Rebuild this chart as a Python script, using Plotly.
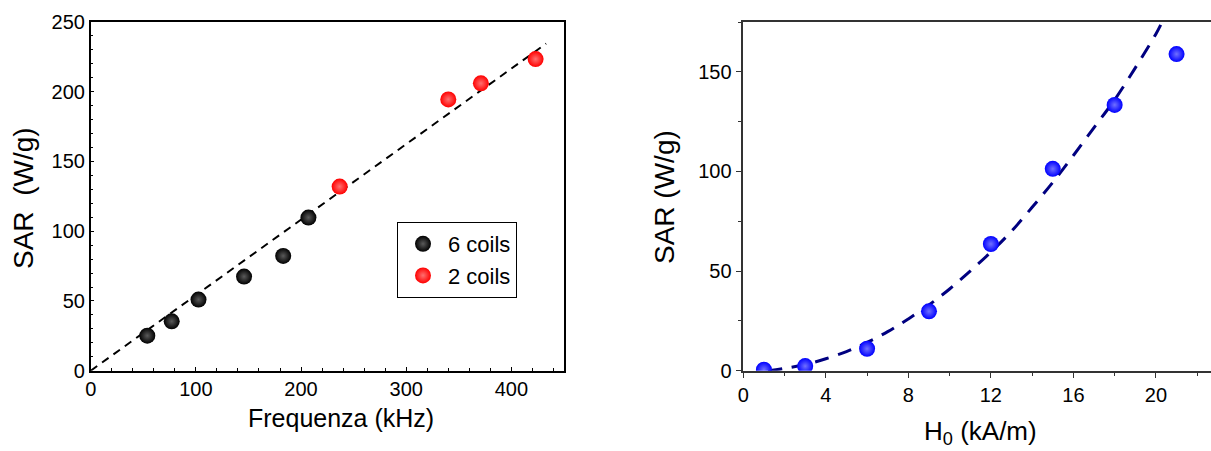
import plotly.graph_objects as go

# ---- Left panel data ----
freq_6coils = [53.8, 77, 102.5, 145.8, 183, 207]
sar_6coils = [25.1, 35.4, 51, 67.5, 82.3, 109.8]
freq_2coils = [236.7, 340, 371, 423]
sar_2coils = [132, 194.5, 206, 223.4]
fit_freq = [0, 433]
fit_sar = [0, 234.5]

# ---- Right panel data ----
h0 = [1, 3, 6, 9, 12, 15, 18, 21]
sar_h0 = [0.5, 2.3, 11, 29.8, 63.6, 101.3, 133.4, 158.9]
fit_h0 = [1.2, 2, 3, 4, 5, 6, 7, 8, 9, 10, 11, 12, 13, 14, 15, 16, 17, 18, 19, 20, 20.3]
fit_sar_h0 = [0, 1.2, 3.1, 6, 9.6, 14.2, 19.6, 26, 33, 41, 50, 59.5, 70, 82, 94.5, 108, 122, 136, 152, 169, 175]

W, H = 1211, 451
FONT = "Liberation Sans, Arial, sans-serif"

def px_x(p):
    return p / W

def px_y(p):
    return (H - p) / H

fig = go.Figure()

fig.add_trace(go.Scatter(x=fit_freq, y=fit_sar, mode="lines", showlegend=False,
                         line=dict(color="black", width=2, dash="8px,6px"),
                         xaxis="x", yaxis="y"))
fig.add_trace(go.Scatter(x=freq_6coils, y=sar_6coils, mode="markers", name="6 coils",
                         marker=dict(size=16, color="black", line=dict(width=0),
                                     gradient=dict(type="radial", color="#5a5a5a")),
                         xaxis="x", yaxis="y"))
fig.add_trace(go.Scatter(x=freq_2coils, y=sar_2coils, mode="markers", name="2 coils",
                         marker=dict(size=16, color="#ff0000", line=dict(width=0),
                                     gradient=dict(type="radial", color="#ff7070")),
                         xaxis="x", yaxis="y"))

fig.add_trace(go.Scatter(x=fit_h0, y=fit_sar_h0, mode="lines", showlegend=False,
                         line=dict(color="#000080", width=3, dash="14px,10px", shape="spline"),
                         xaxis="x2", yaxis="y2"))
fig.add_trace(go.Scatter(x=h0, y=sar_h0, mode="markers", showlegend=False,
                         marker=dict(size=16, color="#0000ff", line=dict(width=0),
                                     gradient=dict(type="radial", color="#7070ff")),
                         xaxis="x2", yaxis="y2"))

tickfont = dict(family=FONT, size=20, color="black")

fig.update_layout(
    width=W, height=H,
    margin=dict(l=0, r=0, t=0, b=0),
    paper_bgcolor="white", plot_bgcolor="white",
    font=dict(family=FONT, color="black"),
    xaxis=dict(domain=[px_x(90.7), px_x(564)], range=[0, 450], dtick=100, tick0=0,
               ticks="inside", ticklen=4, tickwidth=1, tickcolor="black",
               minor=dict(dtick=20, ticks="inside", ticklen=3, tickcolor="black"),
               showline=True, linecolor="black", linewidth=1.5, mirror=True,
               showgrid=False, zeroline=False, tickfont=tickfont, automargin=False,
               anchor="y"),
    yaxis=dict(domain=[px_y(370.7), px_y(22)], range=[0, 250], dtick=50, tick0=0,
               ticks="inside", ticklen=4, tickwidth=1, tickcolor="black",
               minor=dict(dtick=10, ticks="inside", ticklen=3, tickcolor="black"),
               showline=True, linecolor="black", linewidth=1.5, mirror=True,
               showgrid=False, zeroline=False, tickfont=tickfont, automargin=False,
               anchor="x"),
    xaxis2=dict(domain=[px_x(743.3), 1.0], range=[0, 22.67], dtick=4, tick0=0,
                ticks="outside", ticklen=6, tickwidth=1.2, tickcolor="#333",
                minor=dict(dtick=2, ticks="outside", ticklen=4, tickcolor="#333"),
                showline=True, linecolor="#333", linewidth=1.5, mirror=True,
                showgrid=False, zeroline=False, tickfont=tickfont, automargin=False,
                anchor="y2"),
    yaxis2=dict(domain=[px_y(370.7), px_y(22)], range=[0, 175], dtick=50, tick0=0,
                ticks="outside", ticklen=6, tickwidth=1.2, tickcolor="#333",
                minor=dict(dtick=25, ticks="outside", ticklen=4, tickcolor="#333"),
                showline=True, linecolor="#333", linewidth=1.5, mirror=False,
                showgrid=False, zeroline=False, tickfont=tickfont, automargin=False,
                anchor="x2"),
    legend=dict(x=px_x(397), y=px_y(222), xanchor="left", yanchor="top",
                bordercolor="black", borderwidth=1, bgcolor="white",
                font=dict(family=FONT, size=22, color="black"),
                itemsizing="trace", tracegroupgap=0, itemwidth=40),
    annotations=[
        dict(text="Frequenza (kHz)", x=px_x(341), y=px_y(418), xref="paper", yref="paper",
             xanchor="center", yanchor="middle", showarrow=False,
             font=dict(family=FONT, size=25, color="black")),
        dict(text="SAR\u00a0\u00a0(W/g)", x=px_x(24), y=px_y(198), xref="paper", yref="paper",
             xanchor="center", yanchor="middle", showarrow=False, textangle=-90,
             font=dict(family=FONT, size=28, color="black")),
        dict(text="SAR (W/g)", x=px_x(665), y=px_y(197), xref="paper", yref="paper",
             xanchor="center", yanchor="middle", showarrow=False, textangle=-90,
             font=dict(family=FONT, size=28, color="black")),
        dict(text="H<sub>0</sub> (kA/m)", x=px_x(980), y=px_y(432), xref="paper", yref="paper",
             xanchor="center", yanchor="middle", showarrow=False,
             font=dict(family=FONT, size=26, color="black")),
    ],
)

fig.write_html("out.html")
